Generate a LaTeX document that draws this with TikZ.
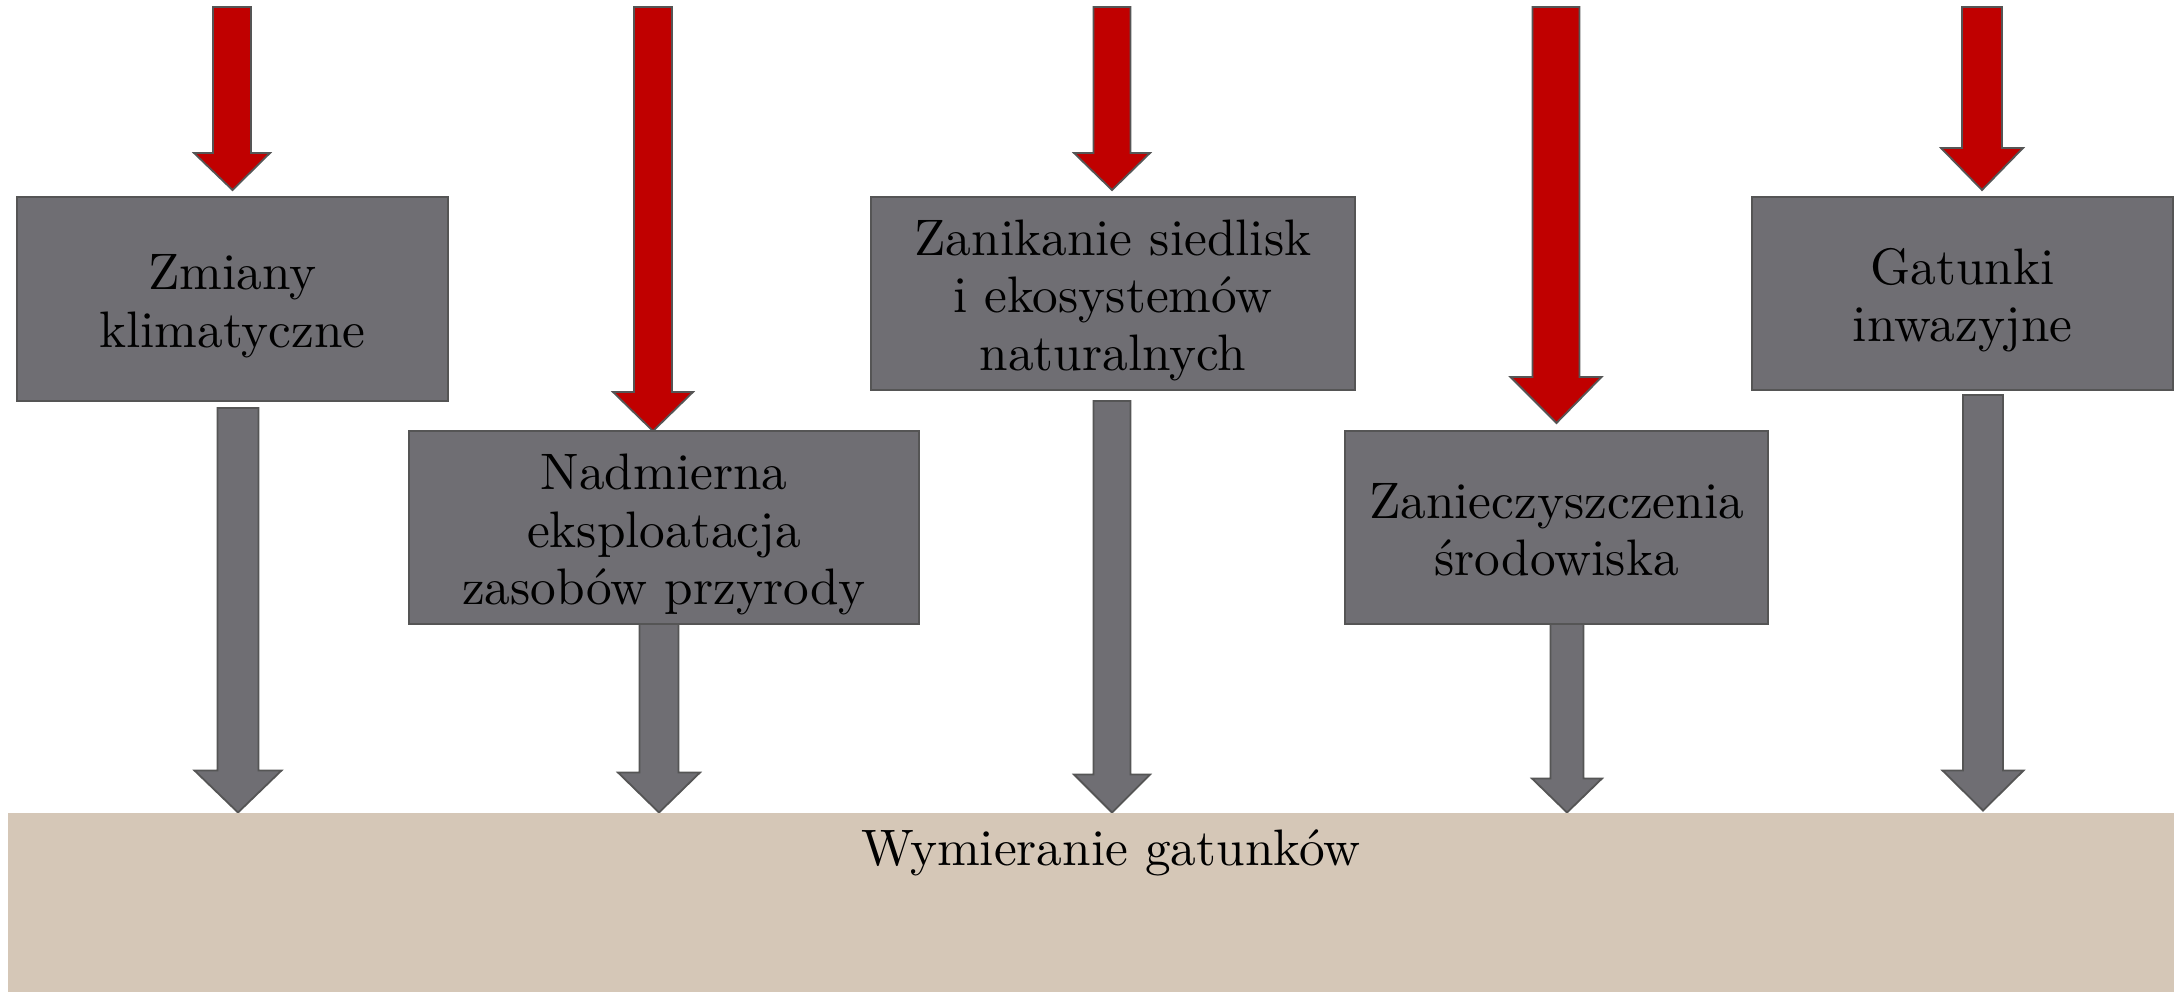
\documentclass[tikz,border=0pt]{standalone}
\usepackage{fontspec}
\usepackage{graphicx}
\usetikzlibrary{calc}
\definecolor{boxgray}{HTML}{6F6E73}
\definecolor{bordergray}{HTML}{555555}
\definecolor{arrred}{HTML}{C00000}
\definecolor{basebeige}{HTML}{D5C7B7}
% text set in the 10pt design of Latin Modern, then enlarged; extra room on top lowers it a little in its box
\newcommand{\bigtext}[1]{\raisebox{0pt}[\dimexpr\height+16pt\relax][\depth]{\scalebox{5.13}{\fontsize{10}{11.2}\selectfont\begin{tabular}{@{}c@{}}#1\end{tabular}}}}
\newcommand{\bigline}[1]{\scalebox{5.13}{\fontsize{10}{11.2}\selectfont #1}}
% block arrow: #1 style, #2 start, #3 tip, #4 shaft half-width, #5 head half-width, #6 head length
\newcommand{\blockarrow}[6]{%
  \path[#1] let \p1=(#2), \p2=(#3) in
    (\x1-#4,\y1) -- (\x1+#4,\y1) -- (\x1+#4,\y2+#6) -- (\x1+#5,\y2+#6) --
    (\x2,\y2) -- (\x1-#5,\y2+#6) -- (\x1-#4,\y2+#6) -- cycle;
}
\pgfdeclarelayer{background}
\pgfsetlayers{background,main}
\begin{document}
\begin{tikzpicture}[x=1pt,y=-1pt,
  box/.style={draw=bordergray, line width=1.8pt, fill=boxgray, inner sep=0pt,
    outer sep=0pt, align=center, text=black},
  basebox/.style={fill=basebeige, draw=none, inner sep=0pt, outer sep=0pt},
  redarr/.style={draw=bordergray, line width=1.8pt, fill=arrred, line join=miter},
  grayarr/.style={draw=bordergray, line width=1.8pt, fill=boxgray, line join=miter},
  basetext/.style={text=black, inner sep=0pt}
]
\useasboundingbox (0,0) rectangle (2174,991);

% bottom band
\node[basebox, minimum width=2166pt, minimum height=179pt] (base) at (1091,902) {};
\node[basetext, anchor=base] (basetxt) at (1111,865) {\bigline{Wymieranie gatunków}};

% threat boxes
\node[box, minimum width=431pt, minimum height=204pt] (b1) at (232.5,299) {\bigtext{Zmiany\\klimatyczne}};
\node[box, minimum width=510pt, minimum height=193pt] (b2) at (664,527.5) {\bigtext{Nadmierna\\eksploatacja\\zasobów przyrody}};
\node[box, minimum width=484pt, minimum height=193pt] (b3) at (1113,293.5) {\bigtext{Zanikanie siedlisk\\i ekosystemów\\naturalnych}};
\node[box, minimum width=423pt, minimum height=193pt] (b4) at (1556.5,527.5) {\bigtext{Zanieczyszczenia\\środowiska}};
\node[box, minimum width=421pt, minimum height=193pt] (b5) at (1962.5,293.5) {\bigtext{Gatunki\\inwazyjne}};

% free ends of the red arrows
\coordinate (r1) at (232,7);
\coordinate (r2) at (653,7);
\coordinate (r3) at (1112,7);
\coordinate (r4) at (1556,7);
\coordinate (r5) at (1982,7);

\begin{pgfonlayer}{background}
% red arrows into boxes
\blockarrow{redarr}{r1}{$(b1.north)+(0,-7)$}{19}{38}{37}
\blockarrow{redarr}{r2}{$(b2.north)+(-11,0)$}{19}{40}{39}
\blockarrow{redarr}{r3}{$(b3.north)+(-1,-7)$}{18.5}{38}{37}
\blockarrow{redarr}{r4}{$(b4.north)+(0,-8)$}{23.5}{45.5}{46}
\blockarrow{redarr}{r5}{$(b5.north)+(19.5,-7)$}{20}{41}{42}
% gray arrows into the band
\blockarrow{grayarr}{$(b1.south)+(5.5,7)$}{$(b1.south |- base.north)+(5.5,0)$}{20.5}{43.5}{42}
\blockarrow{grayarr}{$(b2.south)+(-5,-2)$}{$(b2.south |- base.north)+(-5,0)$}{19.5}{41}{40}
\blockarrow{grayarr}{$(b3.south)+(-1,11)$}{$(b3.south |- base.north)+(-1,0)$}{18.5}{38}{38}
\blockarrow{grayarr}{$(b4.south)+(10.5,-2)$}{$(b4.south |- base.north)+(10.5,0)$}{16.5}{35}{34}
\blockarrow{grayarr}{$(b5.south)+(20.5,5)$}{$(b5.south |- base.north)+(20.5,-2)$}{20}{40.5}{40}
\end{pgfonlayer}
\end{tikzpicture}
\end{document}
